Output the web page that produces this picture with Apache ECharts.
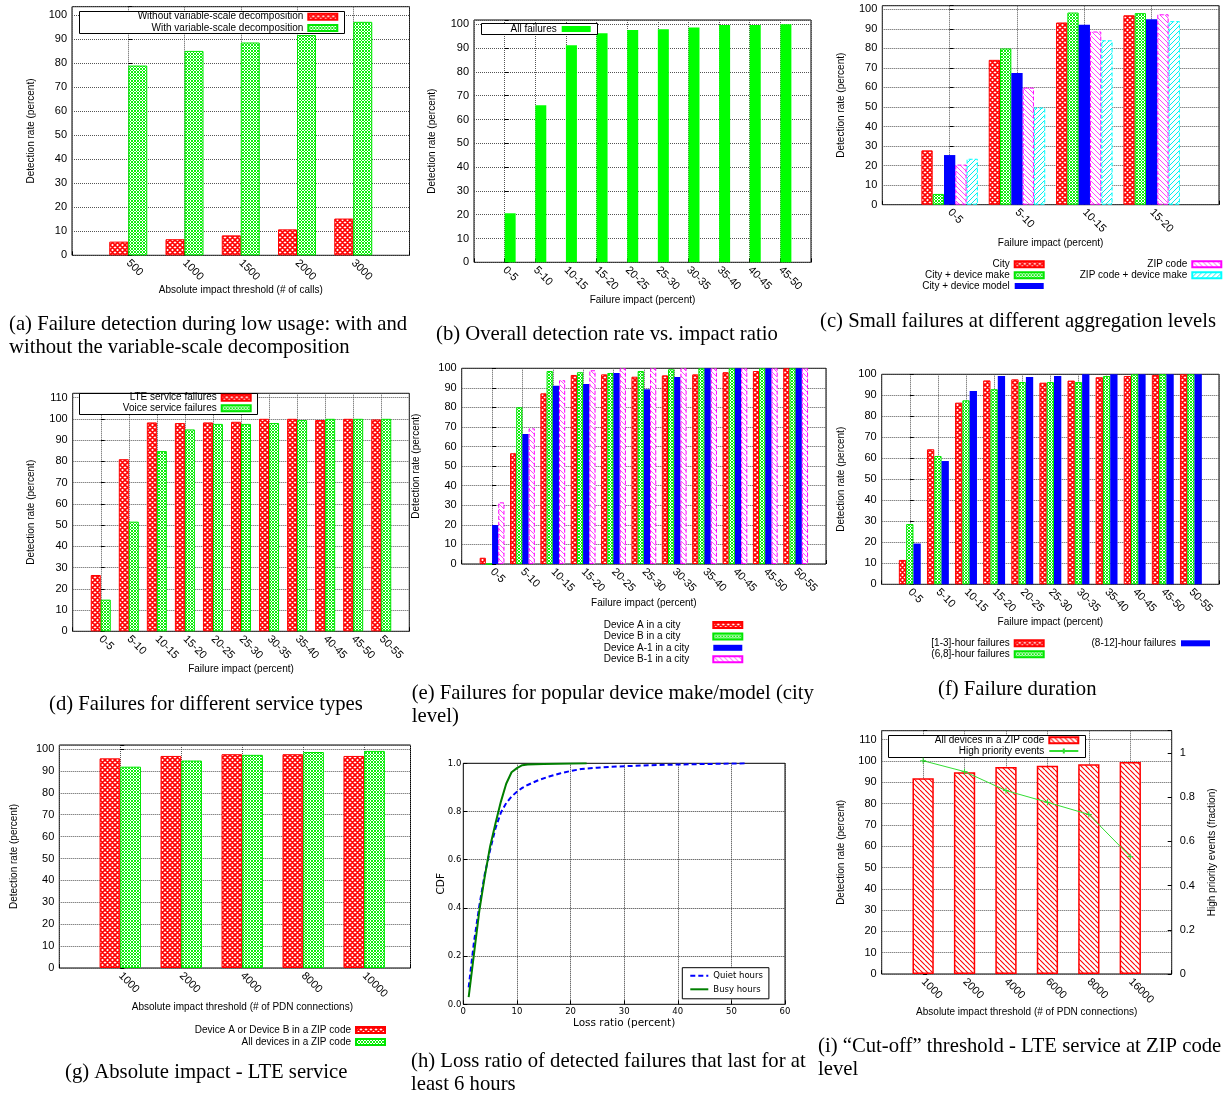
<!DOCTYPE html>
<html><head><meta charset="utf-8">
<script src="https://cdn.jsdelivr.net/npm/echarts@6/dist/echarts.min.js"></script>
<style>html,body{margin:0;padding:0;background:#fff}#c{width:1225px;height:1095px}</style>
</head><body><div id="c"></div>
<script>
// ---------------- DATA ----------------
const aCats = ['500', '1000', '1500', '2000', '3000'];
const aWithout = [5.7, 6.7, 8.3, 10.8, 15.3];
const aWith = [79.0, 85.1, 88.6, 91.7, 97.2];

const bCats = ['0-5', '5-10', '10-15', '15-20', '20-25', '25-30', '30-35', '35-40', '40-45', '45-50'];
const bAll = [20.6, 66.0, 91.2, 96.2, 97.6, 97.9, 98.7, 99.7, 99.7, 100];

const cCats = ['0-5', '5-10', '10-15', '15-20'];
const cCity = [27.8, 74.1, 93.2, 96.9];
const cCityMake = [5.5, 79.9, 98.3, 98.0];
const cCityModel = [25.4, 67.4, 92.0, 94.9];
const cZip = [20.5, 59.9, 88.6, 97.4];
const cZipMake = [23.5, 49.7, 84.1, 93.9];

const dCats = ['0-5', '5-10', '10-15', '15-20', '20-25', '25-30', '30-35', '35-40', '40-45', '45-50', '50-55'];
const dLte = [26.5, 81.0, 98.3, 98.0, 98.3, 98.6, 100, 100, 99.4, 100, 99.7];
const dVoice = [14.9, 51.6, 84.8, 95.0, 97.6, 97.6, 98.0, 99.4, 100, 100, 100];

const eCats = ['0-5', '5-10', '10-15', '15-20', '20-25', '25-30', '30-35', '35-40', '40-45', '45-50', '50-55'];
const eDevA = [3.2, 56.6, 87.2, 96.6, 96.9, 95.7, 96.4, 96.9, 98.0, 98.6, 100];
const eDevB = [0, 80.1, 98.6, 98.0, 97.6, 98.6, 99.5, 100, 100, 100, 100];
const eDevA1 = [19.9, 66.4, 91.1, 92.0, 97.6, 89.3, 95.6, 100, 100, 100, 100];
const eDevB1 = [31.5, 69.3, 93.9, 99.0, 100, 100, 100, 100, 100, 100, 100];

const fCats = ['0-5', '5-10', '10-15', '15-20', '20-25', '25-30', '30-35', '35-40', '40-45', '45-50', '50-55'];
const f1to3 = [11.6, 64.3, 86.5, 97.1, 97.6, 96.0, 97.0, 98.6, 99.2, 99.7, 100];
const f6to8 = [28.7, 61.1, 87.6, 92.9, 96.3, 96.3, 96.3, 99.2, 100, 100, 100];
const f8to12 = [19.4, 58.7, 92.1, 99.2, 98.7, 99.2, 100, 100, 100, 100, 100];

const gCats = ['1000', '2000', '4000', '8000', '10000'];
const gDevAB = [95.7, 96.8, 97.6, 97.6, 96.8];
const gAll = [91.9, 94.7, 97.3, 98.6, 99.1];

const hQuiet = [[1,0.07],[2,0.26],[3,0.41],[4,0.54],[5,0.64],[6,0.73],[7,0.795],[8,0.835],[9,0.862],[10,0.882],[11,0.898],[12,0.91],[14,0.93],[16,0.945],[18,0.958],[20,0.968],[22,0.976],[25,0.982],[30,0.988],[35,0.992],[40,0.995],[45,0.997],[50,0.999],[53,1.0]];
const hBusy = [[1,0.03],[2,0.21],[3,0.39],[4,0.53],[5,0.655],[6,0.75],[7,0.84],[8,0.915],[9,0.963],[10,0.98],[11,0.992],[12,0.995],[15,0.997],[20,0.999],[23,1.0]];
const hXTicks = [0, 10, 20, 30, 40, 50, 60];

const iCats = ['1000', '2000', '4000', '6000', '8000', '16000'];
const iAll = [91.9, 94.7, 97.2, 97.8, 98.4, 99.5];
const iHigh = [0.965, 0.916, 0.83, 0.777, 0.722, 0.531];

// ---------------- STYLE HELPERS ----------------
const W = 1225;
const SANS = "'Liberation Sans', Arial, Helvetica, sans-serif";
const SERIF = "'Liberation Serif', 'Times New Roman', serif";
const DEJ = "'DejaVu Sans', sans-serif";

function hatch(color, size, lw, dirs) {
  const c = document.createElement('canvas');
  c.width = size; c.height = size;
  const g = c.getContext('2d');
  g.fillStyle = '#fff'; g.fillRect(0, 0, size, size);
  g.strokeStyle = color; g.lineWidth = lw;
  g.beginPath();
  dirs.forEach(function (d) {
    for (let k = -1; k <= 1; k++) {
      if (d === '\\') { g.moveTo(k * size, 0); g.lineTo(k * size + size, size); }
      else { g.moveTo(k * size, size); g.lineTo(k * size + size, 0); }
    }
  });
  g.stroke();
  return { image: c, repeat: 'repeat' };
}
const P = {
  red: { color: hatch('#ff0000', 5, 1.6, ['\\', '/']), borderColor: '#ff0000', borderWidth: 1 },
  green: { color: hatch('#00f000', 3, 0.95, ['\\', '/']), borderColor: '#00e600', borderWidth: 1 },
  blue: { color: '#0000ff', borderColor: '#0000ff', borderWidth: 0 },
  magenta: { color: hatch('#ff44ff', 5, 1, ['\\']), borderColor: '#ff00ff', borderWidth: 1, borderType: 'dashed' },
  cyan: { color: hatch('#00eeee', 5, 1, ['/']), borderColor: '#00ffff', borderWidth: 1, borderType: 'dashed' },
  solidGreen: { color: '#00ff00' },
  redDiag: { color: hatch('#ff0000', 5, 1.1, ['\\']), borderColor: '#ff0000', borderWidth: 1.5 }
};

const grid = [], xAxis = [], yAxis = [], series = [], legend = [], graphic = [];
const dotted = { show: true, lineStyle: { type: 'dotted', color: '#555', width: 1 } };
const tick = { show: true, inside: true, length: 4, lineStyle: { color: '#000' } };

function addGrid(l, r, t, b) {
  grid.push({ left: l, top: t, width: r - l, height: b - t, show: true, borderColor: '#000', borderWidth: 1,
    backgroundColor: 'rgba(0,0,0,0)', containLabel: false, outerBoundsMode: 'none' });
  return grid.length - 1;
}
function addCatX(gi, cats, max, name, nameGap, extra) {
  xAxis.push(Object.assign({
    gridIndex: gi, type: 'value', min: -1, max: max, interval: 1,
    axisLine: { show: false }, axisTick: tick, splitLine: dotted,
    axisLabel: { rotate: -45, margin: 6, fontSize: 11, fontFamily: SANS, color: '#000',
      formatter: function (v) { return (Number.isInteger(v) && v >= 0 && v < cats.length) ? cats[v] : ''; } },
    name: name, nameLocation: 'middle', nameGap: nameGap, nameMoveOverlap: false,
    nameTextStyle: { fontSize: 10, fontFamily: SANS, color: '#000' }
  }, extra || {}));
  return xAxis.length - 1;
}
function addPctY(gi, max, nameGap, extra) {
  yAxis.push(Object.assign({
    gridIndex: gi, type: 'value', min: 0, max: max, interval: 10,
    axisLine: { show: false }, axisTick: tick, splitLine: dotted,
    axisLabel: { margin: 5, fontSize: 11, fontFamily: SANS, color: '#000',
      formatter: function (v) { return Math.abs(v / 10 - Math.round(v / 10)) < 1e-6 ? String(Math.round(v)) : ''; } },
    name: 'Detection rate (percent)', nameLocation: 'middle', nameGap: nameGap, nameMoveOverlap: false,
    nameTextStyle: { fontSize: 10, fontFamily: SANS, color: '#000' }
  }, extra || {}));
  return yAxis.length - 1;
}
function addBars(xi, yi, name, vals, width, sty) {
  series.push({ type: 'bar', name: name, xAxisIndex: xi, yAxisIndex: yi, barWidth: width, barGap: '0%',
    data: vals.map(function (v, i) { return [i, v]; }), itemStyle: sty, emphasis: { disabled: true } });
}
function addLegend(names, rightX, firstY, gap, extra) {
  legend.push(Object.assign({
    show: true, data: names, orient: 'vertical', align: 'right', right: W - rightX, top: firstY - 5.5,
    padding: 0, itemGap: gap - 11, itemWidth: 29, itemHeight: 6, icon: 'rect', selectedMode: false,
    textStyle: { fontSize: 10, fontFamily: SANS, color: '#000', lineHeight: 11 }
  }, extra || {}));
}
function keyBox(x1, y1, x2, y2) {
  graphic.push({ type: 'rect', z: 3, shape: { x: Math.round(x1) + 0.5, y: Math.round(y1) + 0.5, width: Math.round(x2 - x1), height: Math.round(y2 - y1) },
    style: { fill: '#fff', stroke: '#000', lineWidth: 1 } });
}
function caption(x, y, text) {
  graphic.push({ type: 'text', z: 5, x: x, y: y,
    style: { text: text, fontFamily: SERIF, fontSize: 20.7, fill: '#000', align: 'left', verticalAlign: 'middle' } });
}

// ---------------- (a) ----------------
(function () {
  const gi = addGrid(72, 409.5, 6.7, 255.3);
  const xi = addCatX(gi, aCats, 5, 'Absolute impact threshold (# of calls)', 29.7);
  const yi = addPctY(gi, 103.5, 36);
  addBars(xi, yi, 'Without variable-scale decomposition', aWithout, 19, P.red);
  addBars(xi, yi, 'With variable-scale decomposition', aWith, 19, P.green);
  keyBox(79, 11, 344, 33);
  addLegend(['Without variable-scale decomposition', 'With variable-scale decomposition'], 338.3, 16.7, 11.3);
  caption(9, 325, '(a) Failure detection during low usage: with and');
  caption(9, 348, 'without the variable-scale decomposition');
})();

// ---------------- (b) ----------------
(function () {
  const gi = addGrid(474, 811, 20, 262.3);
  addCatX(gi, bCats, 10, 'Failure impact (percent)', 33.4);
  xAxis.push({ gridIndex: gi, type: 'value', min: -1.18, max: 9.82, show: false });
  const xb = xAxis.length - 1;
  const yi = addPctY(gi, 101.8, 36.3);
  addBars(xb, yi, 'All failures', bAll, 11, P.solidGreen);
  keyBox(481, 23.3, 596.7, 34.3);
  addLegend(['All failures'], 590.7, 29, 11);
  caption(436, 335, '(b) Overall detection rate vs. impact ratio');
})();

// ---------------- (c) ----------------
(function () {
  const gi = addGrid(882.3, 1219, 5.7, 204.7);
  const xi = addCatX(gi, cCats, 4, 'Failure impact (percent)', 33.6);
  const yi = addPctY(gi, 101.8, 36.3);
  addBars(xi, yi, 'City', cCity, 11.3, P.red);
  addBars(xi, yi, 'City + device make', cCityMake, 11.3, P.green);
  addBars(xi, yi, 'City + device model', cCityModel, 11.3, P.blue);
  addBars(xi, yi, 'ZIP code', cZip, 11.3, P.magenta);
  addBars(xi, yi, 'ZIP code + device make', cZipMake, 11.3, P.cyan);
  addLegend(['City', 'City + device make', 'City + device model'], 1044.7, 264.3, 10.85);
  addLegend(['ZIP code', 'ZIP code + device make'], 1222.3, 264.3, 10.85);
  caption(820, 321.7, '(c) Small failures at different aggregation levels');
})();

// ---------------- (d) ----------------
(function () {
  const gi = addGrid(72.7, 409.3, 393.3, 631.3);
  const xi = addCatX(gi, dCats, 11, 'Failure impact (percent)', 33.4);
  const yi = addPctY(gi, 112, 36.7);
  addBars(xi, yi, 'LTE service failures', dLte, 10, P.red);
  addBars(xi, yi, 'Voice service failures', dVoice, 10, P.green);
  keyBox(79, 392.7, 256.7, 413.3);
  addLegend(['LTE service failures', 'Voice service failures'], 251.7, 397.7, 10.6);
  caption(49, 705, '(d) Failures for different service types');
})();

// ---------------- (e) ----------------
(function () {
  const gi = addGrid(461.7, 826, 368.3, 564);
  const xi = addCatX(gi, eCats, 11, 'Failure impact (percent)', 34.3);
  const yi = addPctY(gi, 100, 40.7);
  addBars(xi, yi, 'Device A in a city', eDevA, 6.2, P.red);
  addBars(xi, yi, 'Device B in a city', eDevB, 6.2, P.green);
  addBars(xi, yi, 'Device A-1 in a city', eDevA1, 6.2, P.blue);
  addBars(xi, yi, 'Device B-1 in a city', eDevB1, 6.2, P.magenta);
  addLegend(['Device A in a city', 'Device B in a city', 'Device A-1 in a city', 'Device B-1 in a city'], 743.3, 625, 11.4, {
    formatter: function (n) { return '{t|' + n + '}'; },
    textStyle: { fontSize: 10, fontFamily: SANS, color: '#000', lineHeight: 11,
      rich: { t: { width: 104.6, align: 'left', fontSize: 10, fontFamily: SANS, color: '#000', lineHeight: 11 } } }
  });
  caption(411.7, 693.3, '(e) Failures for popular device make/model (city');
  caption(411.7, 716.7, 'level)');
})();

// ---------------- (f) ----------------
(function () {
  const gi = addGrid(881.7, 1219, 374.3, 584.3);
  const xi = addCatX(gi, fCats, 11, 'Failure impact (percent)', 33);
  const yi = addPctY(gi, 100, 35.7);
  addBars(xi, yi, '[1-3]-hour failures', f1to3, 7.3, P.red);
  addBars(xi, yi, '(6,8]-hour failures', f6to8, 7.3, P.green);
  addBars(xi, yi, '(8-12]-hour failures', f8to12, 7.3, P.blue);
  addLegend(['[1-3]-hour failures', '(6,8]-hour failures'], 1044.7, 643.3, 11);
  addLegend(['(8-12]-hour failures'], 1210, 643.3, 11);
  caption(938, 690, '(f) Failure duration');
})();

// ---------------- (g) ----------------
(function () {
  const gi = addGrid(59.3, 410.5, 745, 968);
  const xi = addCatX(gi, gCats, 4.76, 'Absolute impact threshold (# of PDN connections)', 34.3,
    { nameTextStyle: { fontSize: 10, fontFamily: SANS, color: '#000', padding: [0, 0, 0, 15] } });
  const yi = addPctY(gi, 101.8, 40);
  addBars(xi, yi, 'Device A or Device B in a ZIP code', gDevAB, 20.7, P.red);
  addBars(xi, yi, 'All devices in a ZIP code', gAll, 20.7, P.green);
  addLegend(['Device A or Device B in a ZIP code', 'All devices in a ZIP code'], 386, 1030, 12);
  caption(65, 1073, '(g) Absolute impact - LTE service');
})();

// ---------------- (h) ----------------
(function () {
  const gi = addGrid(463.3, 785, 763.3, 1004.3);
  xAxis.push({ gridIndex: gi, type: 'value', min: hXTicks[0], max: hXTicks[hXTicks.length - 1], interval: hXTicks[1] - hXTicks[0],
    axisLine: { show: false }, axisTick: tick,
    splitLine: { show: true, lineStyle: { type: 'dotted', color: '#333', width: 1 } },
    axisLabel: { fontSize: 8.5, fontFamily: DEJ, margin: 3, color: '#000' },
    name: 'Loss ratio (percent)', nameLocation: 'middle', nameGap: 13, nameMoveOverlap: false,
    nameTextStyle: { fontSize: 10.5, fontFamily: DEJ, color: '#000' } });
  const xi = xAxis.length - 1;
  yAxis.push({ gridIndex: gi, type: 'value', min: 0, max: 1, interval: 0.2,
    axisLine: { show: false }, axisTick: tick,
    splitLine: { show: true, lineStyle: { type: 'dotted', color: '#333', width: 1 } },
    axisLabel: { fontSize: 8.5, fontFamily: DEJ, margin: 2, color: '#000', formatter: function (v) { return v.toFixed(1); } },
    name: 'CDF', nameLocation: 'middle', nameGap: 17, nameMoveOverlap: false,
    nameTextStyle: { fontSize: 10.5, fontFamily: DEJ, color: '#000' } });
  const yi = yAxis.length - 1;
  series.push({ type: 'line', name: 'Quiet hours', xAxisIndex: xi, yAxisIndex: yi, data: hQuiet, symbol: 'none',
    lineStyle: { color: '#0000ff', width: 2, type: [5, 3] }, itemStyle: { color: '#0000ff' }, emphasis: { disabled: true } });
  series.push({ type: 'line', name: 'Busy hours', xAxisIndex: xi, yAxisIndex: yi, data: hBusy, symbol: 'none',
    lineStyle: { color: '#007f00', width: 2 }, itemStyle: { color: '#007f00' }, emphasis: { disabled: true } });
  legend.push({ show: true, data: ['Quiet hours', 'Busy hours'], orient: 'vertical', left: 682.3, top: 967.7,
    padding: [2.5, 6, 4, 7], borderColor: '#000', borderWidth: 1, borderRadius: 0, backgroundColor: '#fff',
    itemWidth: 18, itemHeight: 11, itemGap: 2.6, selectedMode: false,
    itemStyle: { opacity: 0, borderWidth: 0 },
    textStyle: { fontSize: 8.5, fontFamily: DEJ, color: '#000', lineHeight: 11 } });
  caption(411, 1061.7, '(h) Loss ratio of detected failures that last for at');
  caption(411, 1085, 'least 6 hours');
})();

// ---------------- (i) ----------------
(function () {
  const gi = addGrid(881.7, 1171.7, 730.7, 974);
  const xi = addCatX(gi, iCats, 6, 'Absolute impact threshold (# of PDN connections)', 33.3);
  const yi = addPctY(gi, 114.2, 35.7);
  yAxis.push({ gridIndex: gi, type: 'value', position: 'right', min: 0, max: 1.101, interval: 0.2,
    axisLine: { show: false }, axisTick: tick, splitLine: { show: false },
    axisLabel: { margin: 8, fontSize: 11, fontFamily: SANS, color: '#000',
      formatter: function (v) { return Math.abs(v * 5 - Math.round(v * 5)) < 1e-6 ? String(+v.toFixed(1)) : ''; } },
    name: 'High priority events (fraction)', nameLocation: 'middle', nameGap: 35.3, nameMoveOverlap: false,
    nameTextStyle: { fontSize: 10, fontFamily: SANS, color: '#000' } });
  const yr = yAxis.length - 1;
  addBars(xi, yi, 'All devices in a ZIP code\u200b', iAll, 21.3, P.redDiag);
  series.push({ type: 'line', name: 'High priority events', xAxisIndex: xi, yAxisIndex: yr,
    data: iHigh.map(function (v, i) { return [i, v]; }),
    symbol: 'path://M0,5L10,5M5,0L5,10', symbolSize: 6, showSymbol: true,
    lineStyle: { color: '#33dd33', width: 1 }, itemStyle: { color: '#33dd33', borderColor: '#33dd33', borderWidth: 1 },
    emphasis: { disabled: true } });
  keyBox(888.3, 735, 1085, 756.7);
  addLegend([{ name: 'All devices in a ZIP code\u200b', icon: 'rect' }, { name: 'High priority events' }], 1079.3, 740.3, 10.7, { icon: null });
  caption(818, 1046.7, '(i) \u201cCut-off\u201d threshold - LTE service at ZIP code');
  caption(818, 1070, 'level');
})();

const chart = echarts.init(document.getElementById('c'), null, { renderer: 'canvas', width: 1225, height: 1095 });
chart.setOption({
  animation: false,
  backgroundColor: '#fff',
  grid: grid, xAxis: xAxis, yAxis: yAxis, series: series, legend: legend, graphic: graphic
});
</script></body></html>
